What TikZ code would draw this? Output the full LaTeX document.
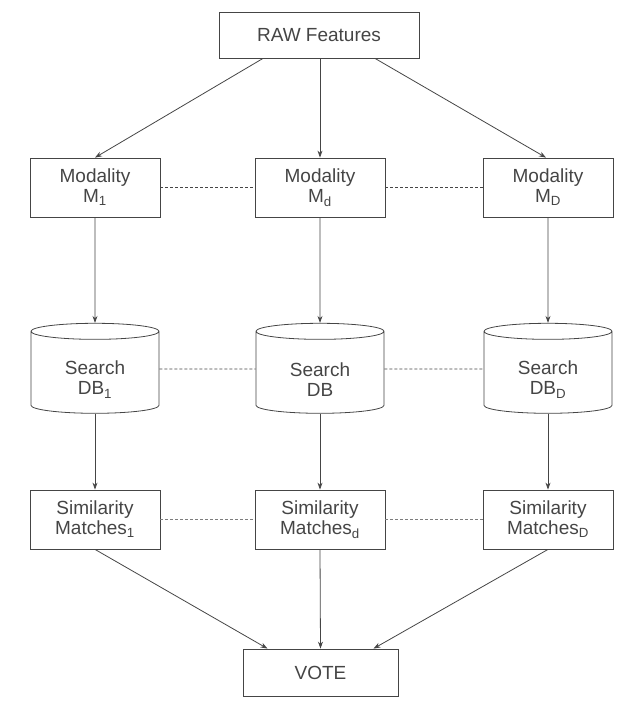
\documentclass[tikz,border=0pt]{standalone}
\usepackage{fontspec}
\setmainfont{Liberation Sans}
\usetikzlibrary{shapes.geometric, arrows.meta}
\definecolor{ink}{HTML}{454545}

\begin{document}
\begin{tikzpicture}[x=1pt, y=-1pt, ink, line width=0.8pt,
  font=\fontsize{19}{20}\selectfont,
  box/.style = {draw, minimum width = 130pt, minimum height = 59pt, align = center, inner sep = 2pt},
  dbase/.style = {draw, cylinder, shape border rotate = 90, aspect = 0.25, minimum width = 128pt, minimum height = 90pt, align = center, inner sep = 2pt, execute at begin node = {\rule{0pt}{46pt}}},
  arr/.style = {-{Stealth[length = 7pt, width = 5pt]}},
  dots/.style = {dash pattern = on 3pt off 2pt}]
\useasboundingbox (0,0) rectangle (625,702);

\node[box, minimum width = 200pt, minimum height = 46pt] (raw) at (319,35) {RAW Features};

\node[box] (mod1) at (95,187.5) {Modality\\M\textsubscript{1}};
\node[box] (modd) at (320,187.5) {Modality\\M\textsubscript{d}};
\node[box] (modD) at (548,187.5) {Modality\\M\textsubscript{D}};

\node[dbase] (db1) at (95,373.5) {Search\\DB\textsubscript{1}};
\node[dbase] (dbd) at (320,373.5) {Search\\DB};
\node[dbase] (dbD) at (548,373.5) {Search\\DB\textsubscript{D}};

\node[box] (sim1) at (95,519.5) {Similarity\\Matches\textsubscript{1}};
\node[box] (simd) at (320,519.5) {Similarity\\Matches\textsubscript{d}};
\node[box] (simD) at (548,519.5) {Similarity\\Matches\textsubscript{D}};

\node[box, minimum width = 155pt, minimum height = 47pt] (vote) at (320.5,672.5) {VOTE};

% raw features to modalities
\draw[arr] ([xshift=-56pt]raw.south) -- (mod1.north);
\draw[arr] (raw.south -| modd) -- (modd.north);
\draw[arr] ([xshift=56pt]raw.south) -- ([xshift=-2pt]modD.north);

% dashed links between columns
\draw[dots] (mod1) -- (modd);
\draw[dots] (modd) -- (modD);
\draw[dots] ([yshift=4.5pt]db1.east) -- ([yshift=4.5pt]dbd.west);
\draw[dots] ([yshift=4.5pt]dbd.east) -- ([yshift=4.5pt]dbD.west);
\draw[dots, ink!70] (sim1) -- (simd);
\draw[dots, ink!70] (simd) -- (simD);

% modality -> search db -> matches
\foreach \c in {1,d,D}
{
  \draw[arr] (mod\c.south) -- (db\c.north);
  \draw[arr] (db\c.south) -- (sim\c.north);
}

% matches to vote
\draw[arr] (sim1.south) -- ([xshift=-53pt]vote.north);
\draw[arr] (simd.south) -- (vote.north);
\draw[arr] (simD.south) -- ([xshift=53pt]vote.north);
\end{tikzpicture}
\end{document}
